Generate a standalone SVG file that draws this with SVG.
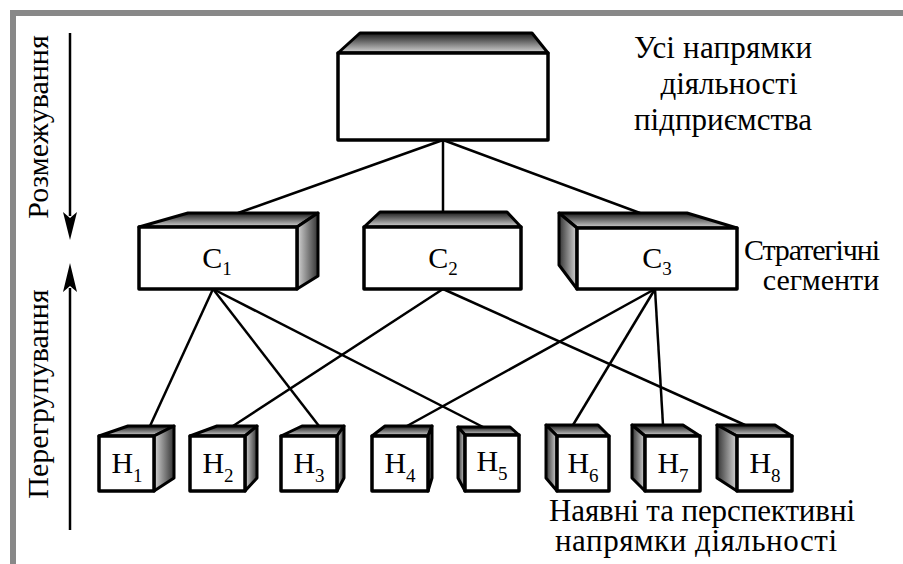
<svg xmlns="http://www.w3.org/2000/svg" width="903" height="564" viewBox="0 0 903 564">
<defs>
<linearGradient id="gTop" x1="0" y1="0" x2="0" y2="1">
<stop offset="0" stop-color="#1a1a1a"/><stop offset="0.5" stop-color="#777"/><stop offset="1" stop-color="#d6d6d6"/>
</linearGradient>
<linearGradient id="gRight" x1="0" y1="0" x2="1" y2="0">
<stop offset="0" stop-color="#d6d6d6"/><stop offset="1" stop-color="#333"/>
</linearGradient>
<linearGradient id="gLeft" x1="0" y1="0" x2="1" y2="0">
<stop offset="0" stop-color="#333"/><stop offset="1" stop-color="#d6d6d6"/>
</linearGradient>
<style>
.top{fill:url(#gTop);stroke:#000;stroke-width:3;stroke-linejoin:round}
.sr{fill:url(#gRight);stroke:#000;stroke-width:3;stroke-linejoin:round}
.sl{fill:url(#gLeft);stroke:#000;stroke-width:3;stroke-linejoin:round}
.front{fill:#fff;stroke:#000;stroke-width:3.5;stroke-linejoin:round}
.con{stroke:#000;stroke-width:2.5;fill:none}
.lbl{font-family:'Liberation Serif',serif;font-size:30px;fill:#000;text-anchor:middle}
.big{font-size:31px}
.sub{font-size:19px}
.arrow{stroke:#000;stroke-width:2.5}
</style>
</defs>
<rect x="0" y="0" width="903" height="564" fill="#fff"/>
<rect x="10" y="10" width="893" height="6" fill="#888"/>
<rect x="10" y="10" width="6" height="554" fill="#888"/>

<g id="connectors">
<line class="con" x1="443" y1="140" x2="238" y2="213"/>
<line class="con" x1="443" y1="140" x2="443" y2="212"/>
<line class="con" x1="443" y1="140" x2="640" y2="213"/>
<line class="con" x1="213" y1="289" x2="150" y2="426"/>
<line class="con" x1="213" y1="289" x2="319" y2="426"/>
<line class="con" x1="213" y1="289" x2="483" y2="427"/>
<line class="con" x1="443" y1="289" x2="233" y2="426"/>
<line class="con" x1="443" y1="289" x2="745" y2="425"/>
<line class="con" x1="655" y1="289" x2="407" y2="426"/>
<line class="con" x1="655" y1="289" x2="573" y2="425"/>
<line class="con" x1="655" y1="289" x2="663" y2="425"/>
</g>

<g id="axis-down">
<line class="arrow" x1="70" y1="33" x2="70" y2="216"/>
<polygon points="63,212 70,218 77,212 70,240" fill="#000"/>
<text class="lbl" transform="translate(48,127) rotate(-90)">Розмежування</text>
</g>
<g id="axis-up">
<line class="arrow" x1="70" y1="530" x2="70" y2="288"/>
<polygon points="63,292 70,286 77,292 70,263" fill="#000"/>
<text class="lbl" transform="translate(48,394) rotate(-90)">Перегрупування</text>
</g>

<g id="root">
<polygon class="top" points="338,53 360,33 532,33 548,53"/>
<rect class="front" x="338" y="53" width="210" height="87"/>
</g>
<g id="root-label">
<text class="lbl big" x="723" y="58" textLength="178">Усі напрямки</text>
<text class="lbl big" x="729" y="94">діяльності</text>
<text class="lbl big" x="723" y="130" textLength="178">підприємства</text>
</g>

<g id="C1">
<polygon class="top" points="139,227 188,213 318,213 297,227"/>
<polygon class="sr" points="297,227 318,213 318,276 297,289"/>
<rect class="front" x="139" y="227" width="158" height="62"/>
<text class="lbl" x="217" y="268">С<tspan class="sub" dy="7">1</tspan></text>
</g>
<g id="C2">
<polygon class="top" points="364,227 380,212 507,212 521,227"/>
<rect class="front" x="364" y="227" width="157" height="62"/>
<text class="lbl" x="443" y="268">С<tspan class="sub" dy="7">2</tspan></text>
</g>
<g id="C3">
<polygon class="top" points="559,213 687,213 737,228 577,228"/>
<polygon class="sl" points="559,213 577,228 577,289 559,265"/>
<rect class="front" x="577" y="228" width="160" height="61"/>
<text class="lbl" x="657" y="268">С<tspan class="sub" dy="7">3</tspan></text>
</g>
<g id="seg-label">
<text class="lbl" x="812" y="260" textLength="136">Стратегічні</text>
<text class="lbl" x="821" y="290">сегменти</text>
</g>

<g id="H1">
<polygon class="top" points="99,436 128,426 174,426 154,436"/>
<polygon class="sr" points="154,436 174,426 174,478 154,491"/>
<rect class="front" x="99" y="436" width="55" height="55"/>
<text class="lbl" x="127" y="473">Н<tspan class="sub" dy="9">1</tspan></text>
</g>
<g id="H2">
<polygon class="top" points="190,436 217,426 257,426 245,436"/>
<polygon class="sr" points="245,436 257,426 257,478 245,491"/>
<rect class="front" x="190" y="436" width="55" height="55"/>
<text class="lbl" x="218" y="473">Н<tspan class="sub" dy="9">2</tspan></text>
</g>
<g id="H3">
<polygon class="top" points="281,436 302,426 344,426 337,436"/>
<polygon class="sr" points="337,436 344,426 344,478 337,491"/>
<rect class="front" x="281" y="436" width="56" height="55"/>
<text class="lbl" x="309" y="473">Н<tspan class="sub" dy="9">3</tspan></text>
</g>
<g id="H4">
<polygon class="top" points="372,436 385,426 432,426 428,436"/>
<polygon class="sr" points="428,436 432,426 432,478 428,491"/>
<rect class="front" x="372" y="436" width="56" height="55"/>
<text class="lbl" x="400" y="473">Н<tspan class="sub" dy="9">4</tspan></text>
</g>
<g id="H5">
<polygon class="top" points="465,435 458,427 510,427 519,435"/>
<polygon class="sl" points="458,427 465,435 465,491 458,478"/>
<rect class="front" x="465" y="435" width="54" height="56"/>
<text class="lbl" x="492" y="471">Н<tspan class="sub" dy="9">5</tspan></text>
</g>
<g id="H6">
<polygon class="top" points="557,436 546,425 598,425 609,436"/>
<polygon class="sl" points="546,425 557,436 557,491 546,478"/>
<rect class="front" x="557" y="436" width="52" height="55"/>
<text class="lbl" x="583" y="473">Н<tspan class="sub" dy="9">6</tspan></text>
</g>
<g id="H7">
<polygon class="top" points="645,436 632,425 683,425 700,436"/>
<polygon class="sl" points="632,425 645,436 645,491 632,478"/>
<rect class="front" x="645" y="436" width="55" height="55"/>
<text class="lbl" x="673" y="473">Н<tspan class="sub" dy="9">7</tspan></text>
</g>
<g id="H8">
<polygon class="top" points="737,436 717,425 775,425 792,436"/>
<polygon class="sl" points="717,425 737,436 737,491 717,478"/>
<rect class="front" x="737" y="436" width="55" height="55"/>
<text class="lbl" x="765" y="473">Н<tspan class="sub" dy="9">8</tspan></text>
</g>
<g id="h-label">
<text class="lbl big" x="702" y="521" textLength="306">Наявні та перспективні</text>
<text class="lbl big" x="696" y="551" textLength="282">напрямки діяльності</text>
</g>
</svg>
